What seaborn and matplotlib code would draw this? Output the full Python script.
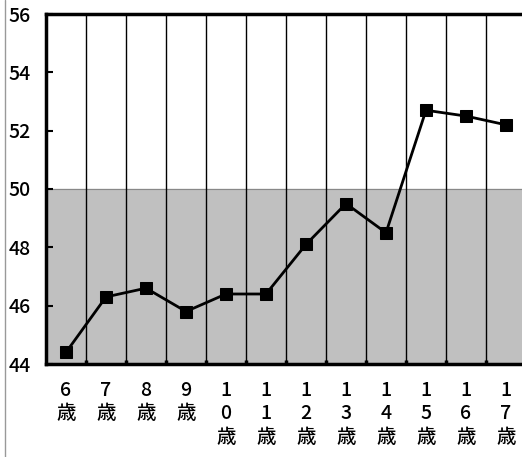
import matplotlib
matplotlib.use("Agg")
import matplotlib.pyplot as plt
from matplotlib.lines import Line2D
import seaborn as sns
import pandas as pd

sns.set_theme(style="white")
plt.rcParams['font.family'] = ['Noto Sans CJK JP', 'DejaVu Sans']

ages = ["6", "7", "8", "9", "10", "11", "12", "13", "14", "15", "16", "17"]
values = [44.4, 46.3, 46.6, 45.8, 46.4, 46.4, 48.1, 49.5, 48.5, 52.7, 52.5, 52.2]
yticks = [44, 46, 48, 50, 52, 54, 56]

# vertical, one character per line: "1\n0\n歳"
xlabels = ["\n".join(list(a) + ["歳"]) for a in ages]

df = pd.DataFrame({"pos": range(len(ages)), "value": values})

fig = plt.figure(figsize=(5.22, 4.57), dpi=100)
ax = fig.add_axes([46 / 522, 93 / 457, 480 / 522, 350 / 457])

ax.axhspan(44, 50, color="#c0c0c0", zorder=0)
ax.axhline(50, color="#888888", lw=0.8, zorder=0.5)
for b in range(len(ages) - 1):
    ax.axvline(b + 0.5, color="black", lw=1.0, zorder=1)

sns.lineplot(data=df, x="pos", y="value", ax=ax, color="black", lw=2,
             marker="s", markersize=9, markeredgecolor="black",
             markerfacecolor="black", zorder=3)

ax.set_xlim(-0.5, len(ages) - 0.5)
ax.set_ylim(44, 56)
ax.set_yticks(yticks)
ax.set_yticklabels([str(t) for t in yticks], fontsize=14, color="black",
                   fontweight="medium")
ax.set_xticks(range(len(ages)))
ax.set_xticklabels(xlabels, fontsize=14, color="black", va="top",
                   linespacing=1.3, fontweight="medium")
ax.tick_params(axis="x", length=0, pad=12)
ax.tick_params(axis="y", direction="in", length=5, width=1.5, pad=11,
               color="black", left=True)
ax.set_xlabel("")
ax.set_ylabel("")

for side in ["left", "bottom", "top"]:
    ax.spines[side].set_visible(True)
    ax.spines[side].set_color("black")
    ax.spines[side].set_linewidth(2.5)
ax.spines["right"].set_visible(False)

# small boundary ticks along the bottom spine
for b in range(len(ages) - 1):
    ax.plot([b + 0.5, b + 0.5], [44, 44.15], color="black", lw=2.5,
            solid_capstyle="butt", zorder=4, clip_on=False)

fig.add_artist(Line2D([4.5 / 522, 4.5 / 522], [0, 1], color="#999999",
                      lw=1, transform=fig.transFigure))

fig.savefig("out.png", dpi=100)
